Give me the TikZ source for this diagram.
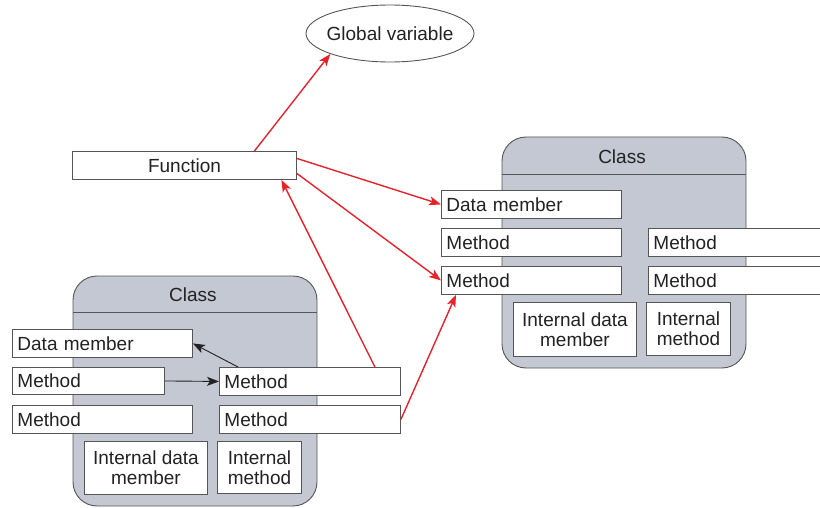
\documentclass[tikz,border=0pt]{standalone}
\usepackage{fontspec}
\setmainfont{Liberation Sans}
\usetikzlibrary{arrows.meta,shapes.geometric,calc}
\definecolor{ink}{HTML}{222222}
\definecolor{edge}{HTML}{555555}
\definecolor{classfill}{HTML}{C3C8D3}
\definecolor{callred}{HTML}{E8222B}
\tikzset{
  every node/.style={font=\fontsize{19}{20}\selectfont, text=ink},
  box/.style={draw=edge, fill=white, line width=0.9pt, inner sep=0pt, anchor=north west},
  mbox/.style={box, text width=#1, align=left, inner xsep=5pt, minimum height=28pt},
  ibox/.style={box, align=center},
  classbox/.style={draw=edge, fill=classfill, line width=0.9pt, rounded corners=24pt},
  call/.style={draw=callred, line width=1.4pt, -{Stealth[length=12pt,width=9pt,inset=3pt]}},
  local/.style={draw=ink, line width=0.9pt, -{Stealth[length=12pt,width=9pt,inset=3pt]}}
}
\begin{document}
\begin{tikzpicture}[x=1pt,y=-1pt]
\useasboundingbox (0,0) rectangle (820,508);

% global variable and the free function
\node[ellipse, draw=edge, line width=0.9pt, minimum width=168pt, minimum height=57pt, inner xsep=-4pt, inner ysep=0pt] (gv) at (390,33.5) {Global variable};
\node[box, minimum width=224pt, minimum height=28pt] (fn) at (72,151) {Function};

% right-hand class
\draw[classbox] (502,137) rectangle (746,368);
\draw[edge, line width=0.9pt] (502,174) -- (746,174);
\node (rcls) at (622,157) {Class};
\node[mbox=170pt] (rdm) at (441,190) {Data member};
\node[mbox=170pt] (rm1) at (441,228) {Method};
\node[mbox=170pt] (rm2) at (441,266) {Method};
\node[mbox=180pt] (rm3) at (648,228) {Method};
\node[mbox=180pt] (rm4) at (648,266) {Method};
\node[ibox, minimum width=123pt, minimum height=54pt] (rid) at (513,302) {Internal data\\member};
\node[ibox, minimum width=84pt, minimum height=53pt] (rim) at (646,302) {Internal\\method};

% left-hand class
\draw[classbox] (73,276) rectangle (317,506);
\draw[edge, line width=0.9pt] (73,312) -- (317,312);
\node (lcls) at (193,295) {Class};
\node[mbox=170pt] (ldm) at (12,329) {Data member};
\node[mbox=142pt, minimum height=27pt] (lm1) at (12,367) {Method};
\node[mbox=170pt] (lm2) at (12,405) {Method};
\node[mbox=171pt] (lr1) at (219,367) {Method};
\node[mbox=171pt] (lr2) at (219,405) {Method};
\node[ibox, minimum width=123pt, minimum height=53pt] (lid) at (84,441) {Internal data\\member};
\node[ibox, minimum width=84pt, minimum height=52pt] (lim) at (217,441) {Internal\\method};

% calls inside the left class
\draw[local] (lm1.east) -- (lr1.west);
\draw[local] ([xshift=19pt]lr1.north west) -- (ldm.east);

% calls across units
\draw[call] ([xshift=70pt]fn.north) -- (gv.south west);
\draw[call] ([yshift=7pt]fn.east) -- (rdm.west);
\draw[call] ([yshift=-8pt]fn.east) -- (rm2.west);
\draw[call] ([xshift=65pt]lr1.north) -- ([xshift=97pt]fn.south);
\draw[call] (lr2.east) -- ([xshift=15pt]rm2.south west);
\end{tikzpicture}
\end{document}
